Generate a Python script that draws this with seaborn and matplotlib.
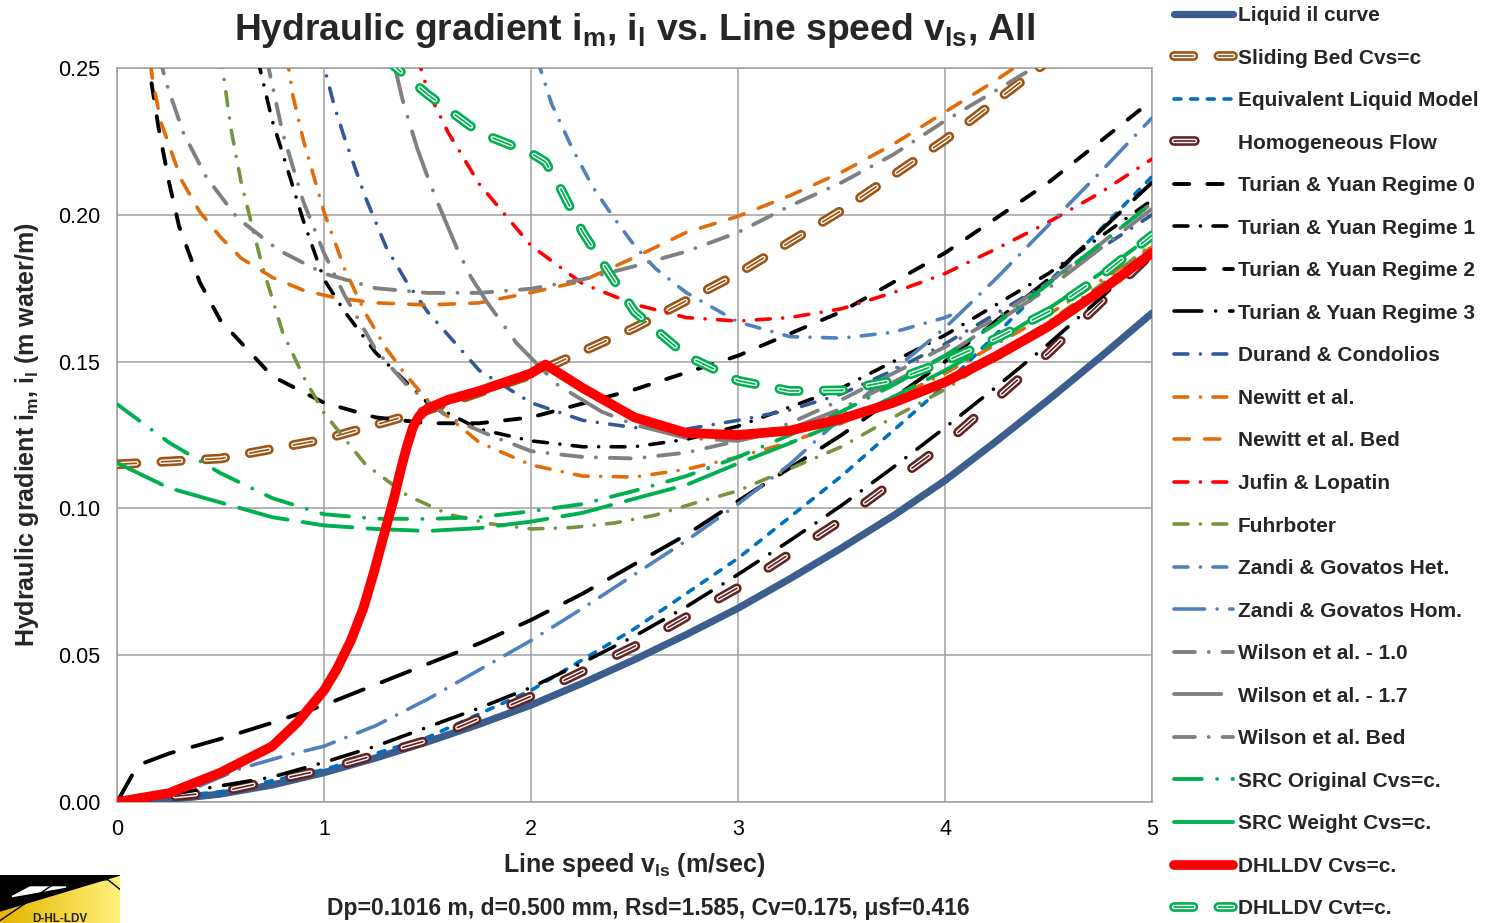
import numpy as np
import pandas as pd
import matplotlib
matplotlib.use("Agg")
import matplotlib.pyplot as plt
import seaborn as sns
from matplotlib.lines import Line2D

# ---------------- data ----------------
liquid_v = [0, 0.25, 0.5, 0.75, 1, 1.25, 1.5, 1.75, 2, 2.25, 2.5, 2.75, 3, 3.25, 3.5, 3.75, 4, 4.25, 4.5, 4.75, 5]
liquid_i = [0, 0.0008, 0.0027, 0.0058, 0.0100, 0.0150, 0.0205, 0.0265, 0.0330, 0.0405, 0.0485, 0.0570,
            0.0660, 0.0760, 0.0865, 0.0975, 0.1095, 0.1230, 0.1370, 0.1515, 0.1665]

slbed_v = [0, 0.5, 1, 1.5, 2, 2.5, 3, 3.5, 4, 4.5, 4.75]
slbed_i = [0.115, 0.117, 0.1235, 0.1335, 0.1455, 0.1615, 0.180, 0.2015, 0.2255, 0.2525, 0.267]

eqliq_v = [0, 0.5, 1, 1.5, 2, 2.5, 3, 3.5, 4, 4.5, 5]
eqliq_i = [0, 0.0035, 0.011, 0.022, 0.038, 0.059, 0.083, 0.111, 0.142, 0.177, 0.213]

homog_v = [0, 0.5, 1, 1.5, 2, 2.5, 3, 3.5, 4, 4.5, 5]
homog_i = [0, 0.0035, 0.011, 0.021, 0.036, 0.053, 0.073, 0.096, 0.122, 0.153, 0.187]

ty0_v = [0.14, 0.16, 0.2, 0.25, 0.3, 0.4, 0.5, 0.75, 1, 1.25, 1.5, 1.75, 2, 2.5, 3, 3.5, 4, 4.5, 5]
ty0_i = [0.256, 0.248, 0.230, 0.2115, 0.196, 0.177, 0.164, 0.145, 0.136, 0.131, 0.129, 0.129, 0.131,
         0.1405, 0.152, 0.167, 0.187, 0.211, 0.239]

ty1_v = [0.68, 0.75, 0.8, 0.9, 1.0, 1.1, 1.25, 1.5, 1.75, 2, 2.25, 2.5, 2.75, 3, 3.5, 4, 4.5, 5]
ty1_i = [0.253, 0.232, 0.221, 0.198, 0.178, 0.167, 0.153, 0.136, 0.127, 0.123, 0.121, 0.121, 0.1235,
         0.128, 0.141, 0.159, 0.180, 0.205]

ty2_v = [0, 0.1, 0.25, 0.5, 0.75, 1, 1.25, 1.5, 1.75, 2, 2.25, 2.5, 2.75, 3, 3.5, 4, 4.5, 5]
ty2_i = [0, 0.0125, 0.0165, 0.0215, 0.027, 0.033, 0.040, 0.047, 0.054, 0.062, 0.071, 0.081, 0.091,
         0.1025, 0.125, 0.150, 0.178, 0.211]

ty3_v = [0.25, 0.5, 0.75, 1, 1.25, 1.5, 1.75, 2, 2.25, 2.5, 2.75, 3, 3.25, 3.5, 3.75, 4, 4.25, 4.5, 4.75, 5]
ty3_i = [0.0025, 0.0055, 0.0085, 0.0135, 0.019, 0.0255, 0.032, 0.039, 0.0475, 0.0565, 0.0665, 0.0775,
         0.089, 0.101, 0.114, 0.1275, 0.1415, 0.156, 0.1715, 0.1875]

durand_v = [0.98, 1.05, 1.1, 1.2, 1.3, 1.4, 1.5, 1.75, 2, 2.25, 2.5, 2.75, 3, 3.25, 3.5, 3.75, 4, 4.5, 5]
durand_i = [0.256, 0.237, 0.226, 0.206, 0.189, 0.177, 0.167, 0.147, 0.136, 0.130, 0.1275, 0.127, 0.130,
            0.1335, 0.139, 0.147, 0.156, 0.177, 0.200]

newitt_v = [0.82, 0.85, 0.9, 1.0, 1.1, 1.2, 1.3, 1.4, 1.5, 1.75, 2, 2.25, 2.5, 2.75, 3, 3.25, 3.5, 4, 4.5, 5]
newitt_i = [0.254, 0.2405, 0.2255, 0.201, 0.1815, 0.1665, 0.1545, 0.145, 0.137, 0.1225, 0.1148, 0.111,
            0.1107, 0.1133, 0.1175, 0.1225, 0.129, 0.146, 0.166, 0.189]

newbed_v = [0.14, 0.17, 0.21, 0.26, 0.31, 0.4, 0.5, 0.6, 0.75, 0.9, 1.05, 1.25, 1.5, 1.75, 2, 2.25, 2.5,
            2.75, 3, 3.25, 3.5, 3.75, 4, 4.25, 4.5]
newbed_i = [0.262, 0.247, 0.232, 0.222, 0.212, 0.201, 0.1924, 0.1852, 0.1787, 0.1743, 0.1718, 0.170,
            0.1693, 0.170, 0.1735, 0.1775, 0.1855, 0.194, 0.1995, 0.2065, 0.2145, 0.224, 0.235, 0.246, 0.258]

jufin_v = [1.45, 1.5, 1.6, 1.75, 2, 2.25, 2.5, 2.75, 3, 3.25, 3.5, 3.75, 4, 4.25, 4.5, 4.75, 5]
jufin_i = [0.254, 0.2425, 0.228, 0.2105, 0.1895, 0.1765, 0.1695, 0.165, 0.1638, 0.165, 0.168, 0.1735,
           0.180, 0.1885, 0.1975, 0.2075, 0.219]

fuhr_v = [0.5, 0.55, 0.6, 0.7, 0.8, 0.9, 1.0, 1.2, 1.4, 1.6, 1.8, 2.0, 2.2, 2.4, 2.6, 2.8, 3.0, 3.25,
          3.5, 3.75, 4.0, 4.25, 4.5, 4.75, 5]
fuhr_i = [0.255, 0.2295, 0.211, 0.183, 0.160, 0.145, 0.1325, 0.115, 0.1045, 0.098, 0.0948, 0.093, 0.0935,
          0.095, 0.0977, 0.102, 0.106, 0.1135, 0.121, 0.131, 0.1405, 0.152, 0.1635, 0.176, 0.190]

zhet_v = [2.03, 2.1, 2.2, 2.3, 2.4, 2.5, 2.6, 2.75, 3.0, 3.25, 3.5, 3.75, 4.0, 4.05]
zhet_i = [0.253, 0.2377, 0.2225, 0.2093, 0.199, 0.1895, 0.1818, 0.1735, 0.1635, 0.1585, 0.158, 0.160,
          0.165, 0.1665]

zhom_v = [0.4, 0.6, 0.8, 1.0, 1.25, 1.5, 1.75, 2.0, 2.25, 2.5, 2.75, 3.0, 3.25, 3.5, 3.75, 4.0, 4.25,
          4.5, 4.75, 5]
zhom_i = [0.0055, 0.0115, 0.0155, 0.019, 0.026, 0.035, 0.045, 0.055, 0.066, 0.0775, 0.089, 0.1015, 0.115,
          0.131, 0.147, 0.1615, 0.1785, 0.1965, 0.2145, 0.233]

wil10_v = [0.72, 0.8, 0.9, 1.0, 1.1, 1.25, 1.4, 1.6, 1.8, 2.0, 2.25, 2.5, 2.75, 3.0, 3.25, 3.5, 3.75,
           4.0, 4.25, 4.5, 4.75, 5]
wil10_i = [0.254, 0.228, 0.2045, 0.187, 0.1725, 0.154, 0.142, 0.131, 0.125, 0.1195, 0.1175, 0.117, 0.119,
           0.123, 0.129, 0.137, 0.146, 0.155, 0.165, 0.177, 0.19, 0.204]

wil17_v = [1.33, 1.38, 1.45, 1.5, 1.55, 1.65, 1.71, 1.79, 1.93, 2.13, 2.34, 2.5, 2.75, 3.0, 3.25, 3.5,
           4.0, 4.5, 5]
wil17_i = [0.254, 0.239, 0.2227, 0.213, 0.204, 0.1873, 0.1788, 0.170, 0.1563, 0.142, 0.133, 0.1285, 0.124,
           0.123, 0.127, 0.134, 0.152, 0.175, 0.202]

wilbed_v = [0.2, 0.24, 0.32, 0.43, 0.58, 0.78, 1.0, 1.25, 1.5, 1.75, 2.0, 2.25, 2.5, 2.75, 3.0, 3.25,
            3.5, 3.75, 4.0, 4.25, 4.45]
wilbed_i = [0.255, 0.2445, 0.228, 0.213, 0.199, 0.188, 0.18, 0.175, 0.1734, 0.1734, 0.1748, 0.178, 0.1825,
            0.1875, 0.194, 0.203, 0.211, 0.2205, 0.232, 0.2425, 0.251]

srco_v = [0, 0.25, 0.5, 0.75, 1, 1.25, 1.5, 1.75, 2, 2.25, 2.5, 2.75, 3, 3.25, 3.5, 3.75, 4, 4.25, 4.5,
          4.75, 5]
srco_i = [0.1355, 0.1225, 0.112, 0.1035, 0.098, 0.0965, 0.0964, 0.097, 0.099, 0.1015, 0.106, 0.111,
          0.1175, 0.125, 0.133, 0.142, 0.152, 0.163, 0.1765, 0.19, 0.204]

srcw_v = [0, 0.25, 0.5, 0.75, 1, 1.25, 1.5, 1.75, 2, 2.25, 2.5, 2.75, 3, 3.25, 3.5, 3.75, 4, 4.25, 4.5,
          4.75, 5]
srcw_i = [0.1155, 0.107, 0.102, 0.097, 0.0942, 0.093, 0.0923, 0.0933, 0.0955, 0.0985, 0.1033, 0.108,
          0.1153, 0.1222, 0.1295, 0.138, 0.147, 0.157, 0.168, 0.18, 0.193]

dcvs_v = [0, 0.25, 0.5, 0.75, 0.87, 1.0, 1.06, 1.13, 1.19, 1.24, 1.3, 1.34, 1.37, 1.4, 1.43, 1.46, 1.5,
          1.6, 1.75, 2.0, 2.07, 2.25, 2.5, 2.75, 3, 3.25, 3.5, 3.75, 4.0, 4.25, 4.5, 4.75, 5]
dcvs_i = [0, 0.003, 0.010, 0.019, 0.027, 0.038, 0.045, 0.055, 0.066, 0.078, 0.0937, 0.104, 0.113, 0.121,
          0.1277, 0.1315, 0.134, 0.137, 0.140, 0.146, 0.149, 0.141, 0.131, 0.1257, 0.125, 0.1265, 0.1305,
          0.136, 0.143, 0.152, 0.162, 0.174, 0.187]

dcvt_v = [1.3, 1.5, 1.75, 2.0, 2.07, 2.15, 2.25, 2.5, 2.75, 3.0, 3.25, 3.5, 3.75, 4, 4.25, 4.5, 4.75, 5]
dcvt_i = [0.253, 0.241, 0.228, 0.221, 0.218, 0.208, 0.194, 0.167, 0.152, 0.1435, 0.140, 0.1402, 0.1435,
          0.150, 0.158, 0.167, 0.179, 0.193]

labels = ["Liquid il curve", "Sliding Bed Cvs=c", "Equivalent Liquid Model", "Homogeneous Flow",
          "Turian & Yuan Regime 0", "Turian & Yuan Regime 1", "Turian & Yuan Regime 2",
          "Turian & Yuan Regime 3", "Durand & Condolios", "Newitt et al.", "Newitt et al. Bed",
          "Jufin & Lopatin", "Fuhrboter", "Zandi & Govatos Het.", "Zandi & Govatos Hom.",
          "Wilson et al. - 1.0", "Wilson et al. - 1.7", "Wilson et al. Bed", "SRC Original Cvs=c.",
          "SRC Weight Cvs=c.", "DHLLDV Cvs=c.", "DHLLDV Cvt=c."]

x_ticks = [0, 1, 2, 3, 4, 5]
y_ticks = [0.00, 0.05, 0.10, 0.15, 0.20, 0.25]

# ---------------- styling ----------------
sns.set_theme(style="white")
plt.rcParams['font.family'] = ['Liberation Sans', 'DejaVu Sans']
plt.rcParams['mathtext.fontset'] = 'custom'
plt.rcParams['mathtext.rm'] = 'Liberation Sans:bold'
plt.rcParams['mathtext.it'] = 'Liberation Sans:bold'
plt.rcParams['mathtext.bf'] = 'Liberation Sans:bold'
plt.rcParams['lines.scale_dashes'] = False

W, H = 1488, 923
fig = plt.figure(figsize=(W / 100, H / 100), dpi=100)
ax = fig.add_axes([117 / W, 1 - 802 / H, (1152 - 117) / W, (802 - 68) / H])

GRID = "#A0A0A0"
DOT = 0.01
# (x, y, color, lw, dashes, double-line, legend dashes)
series = [
    (liquid_v, liquid_i, "#3B5E8E", 5.2, None, False, None),
    (slbed_v, slbed_i, "#9C5514", 7.0, (14, 18), True, (14, 18)),
    (eqliq_v, eqliq_i, "#0070C0", 2.6, (5, 7), False, (5, 7)),
    (homog_v, homog_i, "#632523", 7.0, (15, 27), True, (15, 60)),
    (ty0_v, ty0_i, "#000000", 2.8, (11, 13), False, (11, 13)),
    (ty1_v, ty1_i, "#000000", 2.6, (10, 9, DOT, 9), False, (10, 9, DOT, 9)),
    (ty2_v, ty2_i, "#000000", 2.8, (22, 14), False, (22, 14)),
    (ty3_v, ty3_i, "#000000", 2.6, (20, 10, DOT, 10), False, (20, 10, DOT, 10)),
    (durand_v, durand_i, "#31599A", 2.6, (10, 9, DOT, 9), False, (10, 9, DOT, 9)),
    (newitt_v, newitt_i, "#E36C09", 2.6, (10, 9, DOT, 9), False, (10, 9, DOT, 9)),
    (newbed_v, newbed_i, "#E36C09", 2.6, (11, 11), False, (11, 11)),
    (jufin_v, jufin_i, "#FF0000", 2.6, (10, 9, DOT, 9), False, (10, 9, DOT, 9)),
    (fuhr_v, fuhr_i, "#77933C", 2.6, (10, 9, DOT, 9), False, (10, 9, DOT, 9)),
    (zhet_v, zhet_i, "#4F81BD", 2.6, (10, 9, DOT, 9), False, (10, 9, DOT, 9)),
    (zhom_v, zhom_i, "#4F81BD", 2.6, (22, 9, DOT, 9), False, (22, 9, DOT, 9)),
    (wil10_v, wil10_i, "#808080", 2.8, (15, 10, DOT, 10), False, (15, 10, DOT, 10)),
    (wil17_v, wil17_i, "#808080", 2.8, (34, 11, DOT, 11), False, (34, 11, DOT, 11)),
    (wilbed_v, wilbed_i, "#808080", 2.8, (15, 10, DOT, 10), False, (15, 10, DOT, 10)),
    (srco_v, srco_i, "#00B050", 2.8, (20, 11, DOT, 11), False, (20, 11, DOT, 11)),
    (srcw_v, srcw_i, "#00B050", 2.8, (36, 11), False, None),
    (dcvs_v, dcvs_i, "#FF0000", 7.0, None, False, None),
    (dcvt_v, dcvt_i, "#00B050", 7.0, (14, 18), True, (14, 18)),
]

handles = []
for k, (v, i, col, lw, dsh, dbl, ldsh) in enumerate(series):
    z = 3 + k
    ls = '-' if dsh is None else (0, dsh)
    lls = '-' if ldsh is None else (0, ldsh)
    common = dict(ax=ax, legend=False, sort=False, estimator=None, dash_capstyle='round',
                  solid_capstyle='round', solid_joinstyle='round')
    if dbl:
        sns.lineplot(x=v, y=i, color=col, linewidth=lw, linestyle=ls, zorder=z, **common)
        sns.lineplot(x=v, y=i, color="white", linewidth=lw * 0.46, linestyle=ls, zorder=z + 0.2, **common)
        sns.lineplot(x=v, y=i, color=col, linewidth=lw * 0.18, linestyle=ls, zorder=z + 0.4, **common)
        h = (Line2D([], [], color=col, lw=lw, ls=lls, dash_capstyle='round'),
             Line2D([], [], color="white", lw=lw * 0.46, ls=lls, dash_capstyle='round'),
             Line2D([], [], color=col, lw=lw * 0.18, ls=lls, dash_capstyle='round'))
    else:
        sns.lineplot(x=v, y=i, color=col, linewidth=lw, linestyle=ls, zorder=z, **common)
        h = Line2D([], [], color=col, lw=lw, ls=lls, dash_capstyle='round', solid_capstyle='round')
    handles.append(h)

ax.set_xlim(0, 5)
ax.set_ylim(0, 0.25)
ax.set_xticks(x_ticks)
ax.set_xticklabels([str(t) for t in x_ticks])
ax.set_yticks(y_ticks)
ax.set_yticklabels([f"{t:.2f}" for t in y_ticks])
ax.grid(True, color=GRID, lw=1.1, zorder=1)
ax.set_axisbelow(True)
for sp in ax.spines.values():
    sp.set_color(GRID)
    sp.set_linewidth(1.1)
ax.tick_params(axis='both', which='both', length=3, color=GRID, width=1.0, labelsize=15.5,
               labelcolor="black", pad=9)
ax.tick_params(axis='x', pad=9)

ax.set_title(r"Hydraulic gradient i$_{m}$, i$_{l}$ vs. Line speed v$_{ls}$, All",
             fontsize=26.8, fontweight='bold', pad=20)
ax.set_xlabel(r"Line speed v$_{ls}$ (m/sec)", fontsize=18, fontweight='bold', labelpad=8)
ax.set_ylabel(r"Hydraulic gradient i$_{m}$, i$_{l}$ (m water/m)", fontsize=18, fontweight='bold',
              labelpad=12)

fig.text(648 / W, 1 - 908 / H, "Dp=0.1016 m, d=0.500 mm, Rsd=1.585, Cv=0.175, \u03bcsf=0.416",
         ha='center', va='center', fontsize=16.5, fontweight='bold')

leg = fig.legend(handles, labels, loc='upper left', bbox_to_anchor=(1174 / W, 1 - 6 / H),
                 frameon=False, prop={'weight': 'bold', 'size': 15}, handlelength=2.85,
                 handletextpad=0.2, labelspacing=1.13, borderpad=0, borderaxespad=0)

# small logo in lower-left corner
lax = fig.add_axes([0, 0, 120 / W, 48 / H])
grad = np.linspace(0, 1, 100).reshape(1, -1)
lax.imshow(grad, extent=[0, 1, 0, 1], cmap=matplotlib.colors.LinearSegmentedColormap.from_list(
    "y", ["#E5B400", "#FFF27A"]), aspect='auto')
lax.fill([0, 1, 0], [1, 1, 0.25], color="black")
lax.fill([0.25, 0.55, 0.1], [0.75, 0.75, 0.55], color="white")
lax.plot([0.0, 0.5, 0.9, 1.2], [0.05, 0.9, 0.9, 0.3], color="black", lw=1)
lax.text(0.5, 0.08, "D-HL-LDV", ha='center', va='center', fontsize=8.5, fontweight='bold', color="#222222")
lax.set_xlim(0, 1)
lax.set_ylim(0, 1)
lax.axis('off')

fig.savefig("out.png", dpi=100)
